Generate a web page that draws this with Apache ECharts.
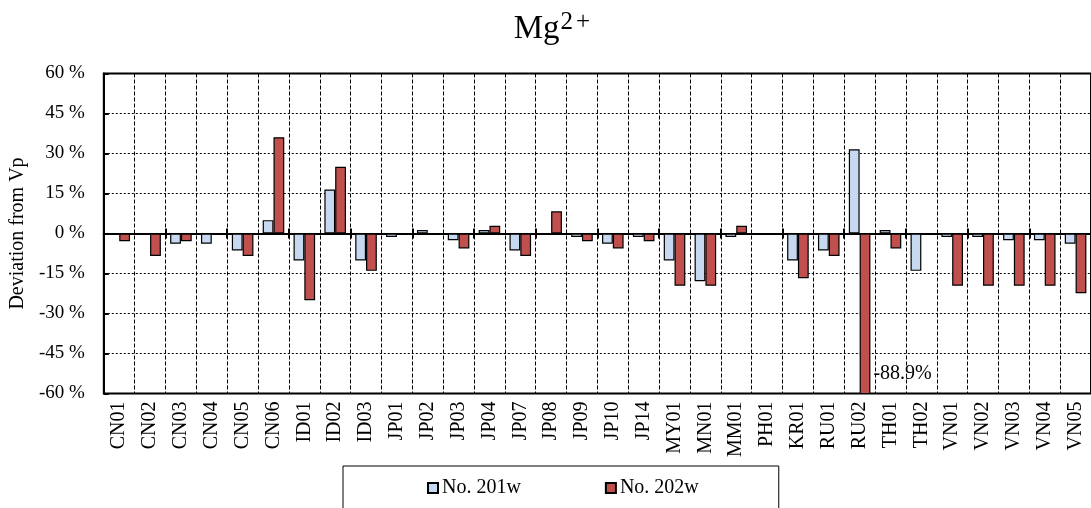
<!DOCTYPE html>
<html>
<head>
<meta charset="utf-8">
<script src="https://cdn.jsdelivr.net/npm/echarts@6/dist/echarts.min.js"></script>
<style>
  html, body { margin: 0; padding: 0; background: #fff; }
  #main { width: 1091px; height: 508px; }
</style>
</head>
<body>
<div id="main"></div>
<script>
// ==============================
// data
// ==============================

const sites = [
    'CN01', 'CN02', 'CN03', 'CN04', 'CN05', 'CN06',
    'ID01', 'ID02', 'ID03',
    'JP01', 'JP02', 'JP03', 'JP04', 'JP07', 'JP08', 'JP09', 'JP10', 'JP14',
    'MY01', 'MN01', 'MM01', 'PH01', 'KR01', 'RU01', 'RU02', 'TH01', 'TH02',
    'VN01', 'VN02', 'VN03', 'VN04', 'VN05'
];

const no201w = [
    null, null, -3.8, -3.8, -6.4, 5.0,
    -10.1, 16.5, -10.1,
    -1.3, 1.3, -2.5, 1.3, -6.4, null, -1.3, -3.8, -1.3,
    -10.1, -17.9, -1.3, null, -10.1, -6.4, 31.6, 1.3, -14.0,
    -1.3, -1.3, -2.5, -2.5, -3.8
];

const no202w = [
    -2.9, -8.4, -2.9, null, -8.4, 36.1,
    -25.0, 25.0, -14.0,
    null, null, -5.6, 2.9, -8.4, 8.3, -2.9, -5.6, -2.9,
    -19.6, -19.6, 2.9, null, -16.8, -8.4, -88.9, -5.6, null,
    -19.6, -19.6, -19.6, -19.6, -22.4
];

const seriesNames = ['No. 201w', 'No. 202w'];

// ==============================
// chart
// ==============================

const serif = 'Liberation Serif';

const myChart = echarts.init(document.getElementById('main'));

// the off-scale value gets its own label
const redData = no202w.map(v => {
    if (v !== null && v < -60) {
        return {
            value: v,
            label: {
                show: true,
                position: ['100%', '81%'],
                offset: [3, 0],
                formatter: v.toFixed(1) + '%',
                fontFamily: serif,
                fontSize: 20,
                color: '#000'
            }
        };
    }
    return v;
});

// ticks that cross the zero line
const zeroTicks = {
    type: 'category',
    data: sites,
    gridIndex: 0,
    axisLine: { onZero: true, onZeroAxisIndex: 0, lineStyle: { color: '#000', width: 2 } },
    axisTick: { show: true, length: 5, lineStyle: { color: '#000', width: 2 } },
    axisLabel: { show: false },
    splitLine: { show: false }
};

const supStyle = {
    fontFamily: serif,
    fontSize: 25,
    color: '#000',
    lineHeight: 36,
    padding: [0, 0, 13, 1]
};

myChart.setOption({

    backgroundColor: '#fff',

    title: {
        text: 'Mg{sup|2}{plus|+}',
        left: 547,
        textAlign: 'center',
        top: 6,
        textStyle: {
            fontFamily: serif,
            fontSize: 33,
            fontWeight: 'normal',
            color: '#000',
            lineHeight: 36,
            rich: {
                sup: supStyle,
                plus: Object.assign({}, supStyle, { padding: [0, 0, 13, 3] })
            }
        }
    },

    legend: {
        data: seriesNames,
        left: 343,
        top: 466,
        padding: [12, 80, 40, 84],
        itemGap: 84,
        itemWidth: 10,
        itemHeight: 10,
        borderColor: '#000',
        borderWidth: 1,
        icon: 'rect',
        textStyle: { fontFamily: serif, fontSize: 20, color: '#000', padding: [0, 0, 0, -1] }
    },

    grid: {
        left: 103,
        top: 73.5,
        width: 991,
        height: 320,
        show: true,
        borderColor: '#000',
        borderWidth: 2
    },

    xAxis: [
        {
            type: 'category',
            data: sites,
            position: 'bottom',
            axisLine: { onZero: false, show: false },
            axisTick: { show: false },
            axisLabel: {
                rotate: 90,
                interval: 0,
                margin: 8,
                fontFamily: serif,
                fontSize: 20,
                color: '#000'
            },
            splitLine: {
                show: true,
                lineStyle: { color: '#000', width: 1, type: [4, 2] }
            }
        },
        Object.assign({ position: 'bottom' }, zeroTicks),
        Object.assign({ position: 'top' }, zeroTicks)
    ],

    yAxis: {
        type: 'value',
        min: -60,
        max: 60,
        interval: 15,
        name: 'Deviation from Vp',
        nameLocation: 'middle',
        nameGap: 71,
        nameTextStyle: { fontFamily: serif, fontSize: 20, color: '#000' },
        axisLine: { show: true, onZero: false, lineStyle: { color: '#000', width: 2 } },
        axisTick: { show: true, inside: true, length: 5, lineStyle: { color: '#000', width: 2 } },
        axisLabel: {
            formatter: '{value} %',
            margin: 19,
            fontFamily: serif,
            fontSize: 19,
            color: '#000'
        },
        splitLine: {
            show: true,
            lineStyle: { color: '#000', width: 1, type: [2, 2] }
        }
    },

    series: [
        {
            name: seriesNames[0],
            type: 'bar',
            data: no201w,
            barGap: '0%',
            barCategoryGap: '30%',
            itemStyle: { color: '#C6D9F1', borderColor: '#000', borderWidth: 1.2 }
        },
        {
            name: seriesNames[1],
            type: 'bar',
            data: redData,
            barGap: '0%',
            barCategoryGap: '30%',
            itemStyle: { color: '#C0504D', borderColor: '#000', borderWidth: 1.2 }
        }
    ]

});
</script>
</body>
</html>
